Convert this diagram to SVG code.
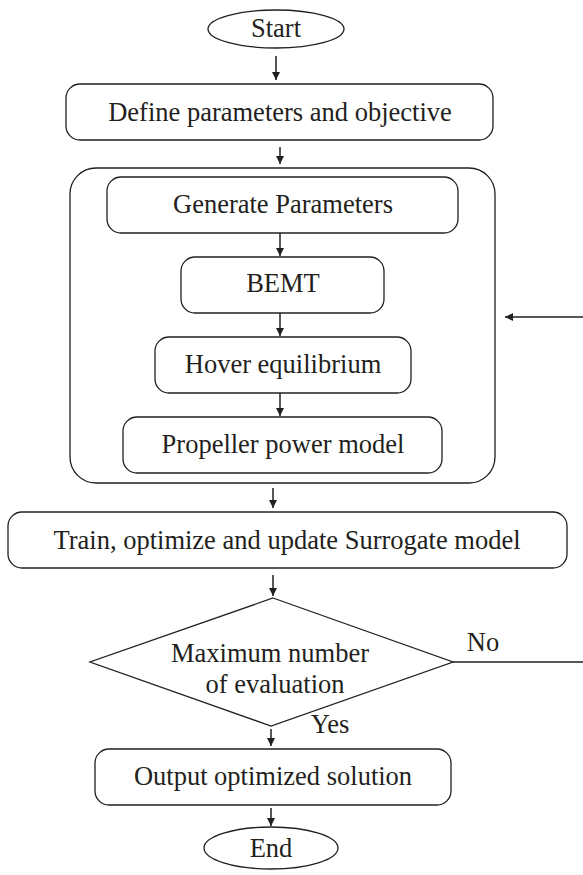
<svg xmlns="http://www.w3.org/2000/svg" width="583" height="875" viewBox="0 0 583 875">
<style>
.s{fill:none;stroke:#231f20;stroke-width:1.3}
.t{font-family:"Liberation Serif","Times New Roman",serif;font-size:26.5px;fill:#231f20;text-anchor:middle}
.c{fill:none;stroke:#231f20;stroke-width:1.5}
</style>
<defs>
<marker id="ah" viewBox="0 0 10 10" refX="10" refY="5" markerWidth="8" markerHeight="8" markerUnits="userSpaceOnUse" orient="auto">
<path d="M0,0 L10,5 L0,10 Z" fill="#231f20"/>
</marker>
</defs>
<rect width="583" height="875" fill="#fff"/>
<g id="start"><ellipse class="s" cx="276" cy="29" rx="68" ry="19"/><text class="t" x="276" y="37">Start</text></g>
<g id="define"><rect class="s" x="66" y="84" width="427" height="56" rx="14"/><text class="t" x="280" y="121">Define parameters and objective</text></g>
<g id="loop"><rect class="s" x="70" y="168" width="425" height="315" rx="26"/></g>
<g id="generate"><rect class="s" x="107" y="177" width="351" height="56" rx="14"/><text class="t" x="283" y="213">Generate Parameters</text></g>
<g id="bemt"><rect class="s" x="181" y="257" width="203" height="56" rx="14"/><text class="t" x="283" y="292">BEMT</text></g>
<g id="hover"><rect class="s" x="155" y="337" width="256" height="56" rx="14"/><text class="t" x="283" y="373">Hover equilibrium</text></g>
<g id="propeller"><rect class="s" x="123" y="417" width="319" height="56" rx="14"/><text class="t" x="283" y="453">Propeller power model</text></g>
<g id="train"><rect class="s" x="8" y="512" width="559" height="56" rx="14"/><text class="t" x="287" y="549">Train, optimize and update Surrogate model</text></g>
<g id="decision"><polygon class="s" points="273,598 453,662 271,726 90,662"/><text class="t" x="270" y="662">Maximum number</text><text class="t" x="275" y="693">of evaluation</text></g>
<g id="output"><rect class="s" x="95" y="749" width="356" height="56" rx="14"/><text class="t" x="273" y="785">Output optimized solution</text></g>
<g id="end"><ellipse class="s" cx="271" cy="848" rx="67" ry="21"/><text class="t" x="271" y="857">End</text></g>
<g id="connectors">
<line class="c" x1="276" y1="56" x2="276" y2="80" marker-end="url(#ah)"/>
<line class="c" x1="280" y1="147" x2="280" y2="164" marker-end="url(#ah)"/>
<line class="c" x1="280" y1="233" x2="280" y2="256" marker-end="url(#ah)"/>
<line class="c" x1="280" y1="313" x2="280" y2="336" marker-end="url(#ah)"/>
<line class="c" x1="280" y1="393" x2="280" y2="416" marker-end="url(#ah)"/>
<line class="c" x1="273" y1="488" x2="273" y2="508" marker-end="url(#ah)"/>
<line class="c" x1="273" y1="575" x2="273" y2="596" marker-end="url(#ah)"/>
<line class="c" x1="271" y1="729" x2="271" y2="746" marker-end="url(#ah)"/>
<line class="c" x1="271" y1="808" x2="271" y2="826" marker-end="url(#ah)"/>
<line class="c" x1="453" y1="662" x2="583" y2="662"/>
<line class="c" x1="583" y1="317" x2="505" y2="317" marker-end="url(#ah)"/>
<text class="t" x="483" y="651">No</text>
<text class="t" x="330" y="733">Yes</text>
</g>
</svg>
